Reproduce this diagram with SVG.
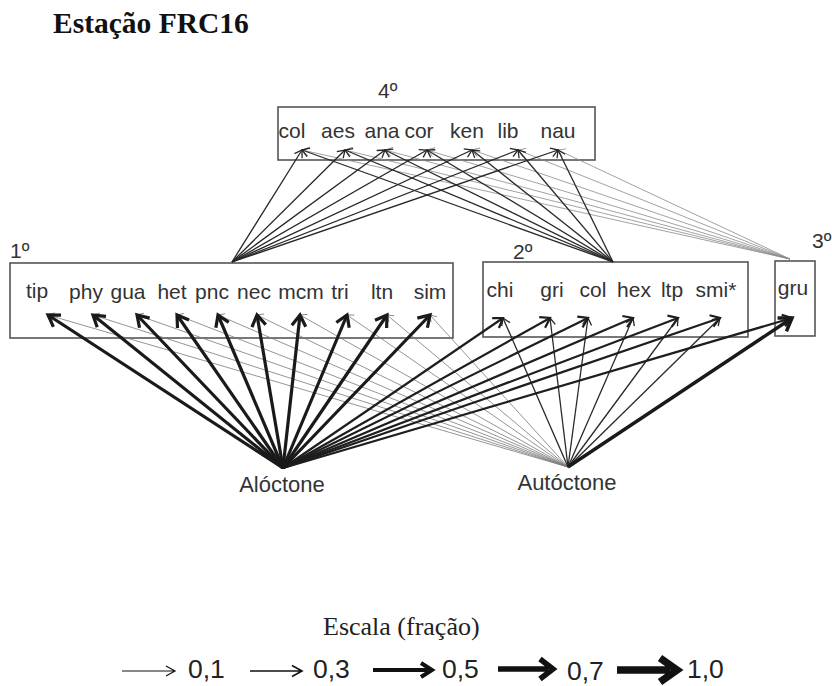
<svg xmlns="http://www.w3.org/2000/svg" width="832" height="686" viewBox="0 0 832 686">
<style>
.box{fill:#fff;stroke:#555;stroke-width:1.6}
.lbl{font-family:"Liberation Sans",Arial,sans-serif;font-size:21px;fill:#333;text-anchor:middle}
.lvl{font-family:"Liberation Sans",Arial,sans-serif;font-size:21px;fill:#333}
.src{font-family:"Liberation Sans",Arial,sans-serif;font-size:22px;fill:#333;text-anchor:middle}
.title{font-family:"Liberation Serif","Times New Roman",serif;font-size:29.5px;font-weight:bold;fill:#111}
.scl{font-family:"Liberation Serif","Times New Roman",serif;font-size:26px;fill:#222}
.num{font-family:"Liberation Sans",Arial,sans-serif;font-size:26.5px;fill:#222}
.e-thin{stroke:#7a7a7a;stroke-width:0.8;fill:none;marker-end:url(#mThin)}
.e-top{stroke:#262626;stroke-width:1.3;fill:none;marker-end:url(#mTop)}
.e-top3{stroke:#8a8a8a;stroke-width:0.8;fill:none;marker-end:url(#mTop3)}
.e-med{stroke:#1e1e1e;stroke-width:2.2;fill:none;marker-end:url(#mMed)}
.e-mid{stroke:#2a2a2a;stroke-width:1.3;fill:none;marker-end:url(#mTop)}
.e-heavy{stroke:#1a1a1a;stroke-width:3.2;fill:none;marker-end:url(#mHeavy)}
.e-gru{stroke:#1a1a1a;stroke-width:3.4;fill:none;marker-end:url(#mGru)}
.sa{stroke:#111;fill:none}
</style>
<defs>
<marker id="mHeavy" markerUnits="userSpaceOnUse" viewBox="-3 -3 17 20" markerWidth="17" markerHeight="20" refX="11" refY="7" orient="auto" overflow="visible"><path d="M0,0 L11,7 L0,14" fill="none" stroke="#1a1a1a" stroke-width="3.2"/></marker>
<marker id="mGru" markerUnits="userSpaceOnUse" viewBox="-3 -3 18 22" markerWidth="18" markerHeight="22" refX="12" refY="8" orient="auto" overflow="visible"><path d="M0,0 L12,8 L0,16" fill="none" stroke="#1a1a1a" stroke-width="3.5"/></marker>
<marker id="mMed" markerUnits="userSpaceOnUse" viewBox="-3 -3 15 18" markerWidth="15" markerHeight="18" refX="9" refY="6" orient="auto" overflow="visible"><path d="M0,0 L9,6 L0,12" fill="none" stroke="#1e1e1e" stroke-width="2.2"/></marker>
<marker id="mTop" markerUnits="userSpaceOnUse" viewBox="-2 -2 11 13" markerWidth="11" markerHeight="13" refX="7" refY="4.5" orient="auto" overflow="visible"><path d="M0,0 L7,4.5 L0,9" fill="none" stroke="#262626" stroke-width="1.3"/></marker>
<marker id="mTop3" markerUnits="userSpaceOnUse" viewBox="-2 -2 11 13" markerWidth="11" markerHeight="13" refX="7" refY="4.5" orient="auto" overflow="visible"><path d="M0,0 L7,4.5 L0,9" fill="none" stroke="#8a8a8a" stroke-width="0.9"/></marker>
<marker id="mThin" markerUnits="userSpaceOnUse" viewBox="-2 -2 10 12" markerWidth="10" markerHeight="12" refX="6" refY="4" orient="auto" overflow="visible"><path d="M0,0 L6,4 L0,8" fill="none" stroke="#7a7a7a" stroke-width="0.8"/></marker>
</defs>
<rect width="832" height="686" fill="#fff"/>
<text class="title" x="53" y="33">Estação FRC16</text>

<g id="level4">
<rect class="box" x="278" y="107" width="317" height="53"/>
<text class="lvl" x="378" y="98">4º</text>
<text class="lbl" x="292" y="138">col</text>
<text class="lbl" x="338" y="138">aes</text>
<text class="lbl" x="382" y="138">ana</text>
<text class="lbl" x="419" y="138">cor</text>
<text class="lbl" x="467" y="138">ken</text>
<text class="lbl" x="508" y="138">lib</text>
<text class="lbl" x="558" y="138">nau</text>
</g>

<g id="level1">
<rect class="box" x="10" y="263" width="443" height="75"/>
<text class="lvl" x="10" y="258">1º</text>
<text class="lbl" x="37" y="298">tip</text>
<text class="lbl" x="86" y="299">phy</text>
<text class="lbl" x="128" y="299">gua</text>
<text class="lbl" x="172" y="299">het</text>
<text class="lbl" x="212" y="299">pnc</text>
<text class="lbl" x="254" y="299">nec</text>
<text class="lbl" x="301" y="299">mcm</text>
<text class="lbl" x="340" y="299">tri</text>
<text class="lbl" x="382" y="299">ltn</text>
<text class="lbl" x="430" y="299">sim</text>
</g>

<g id="level2">
<rect class="box" x="483" y="262" width="265" height="75"/>
<text class="lvl" x="513" y="259">2º</text>
<text class="lbl" x="500" y="297">chi</text>
<text class="lbl" x="552" y="297">gri</text>
<text class="lbl" x="593" y="297">col</text>
<text class="lbl" x="634" y="297">hex</text>
<text class="lbl" x="672" y="297">ltp</text>
<text class="lbl" x="716" y="297">smi*</text>
</g>

<g id="level3">
<rect class="box" x="775" y="261" width="40" height="75"/>
<text class="lvl" x="812" y="248">3º</text>
<text class="lbl" x="793" y="295">gru</text>
</g>

<g id="aloctone">
<text class="src" x="282" y="492">Alóctone</text>
</g>
<g id="autoctone">
<text class="src" x="567" y="490">Autóctone</text>
</g>

<g id="connectors">
<path class="e-thin" d="M568,467 L48,315"/>
<path class="e-thin" d="M568,467 L93,315"/>
<path class="e-thin" d="M568,467 L137,315"/>
<path class="e-thin" d="M568,467 L177,315"/>
<path class="e-thin" d="M568,467 L218,315"/>
<path class="e-thin" d="M568,467 L257,315"/>
<path class="e-thin" d="M568,467 L300,315"/>
<path class="e-thin" d="M568,467 L347,315"/>
<path class="e-thin" d="M568,467 L387,315"/>
<path class="e-thin" d="M568,467 L430,315"/>
<path class="e-top3" d="M790,259 L302,150"/>
<path class="e-top3" d="M790,259 L345,150"/>
<path class="e-top3" d="M790,259 L385,150"/>
<path class="e-top3" d="M790,259 L427,150"/>
<path class="e-top3" d="M790,259 L472,150"/>
<path class="e-top3" d="M790,259 L518,150"/>
<path class="e-top3" d="M790,259 L558,150"/>
<path class="e-mid" d="M613,262 L302,150"/>
<path class="e-mid" d="M613,262 L345,150"/>
<path class="e-mid" d="M613,262 L385,150"/>
<path class="e-mid" d="M613,262 L427,150"/>
<path class="e-mid" d="M613,262 L472,150"/>
<path class="e-mid" d="M613,262 L518,150"/>
<path class="e-mid" d="M613,262 L558,150"/>
<path class="e-top" d="M232,262 L302,150"/>
<path class="e-top" d="M232,262 L345,150"/>
<path class="e-top" d="M232,262 L385,150"/>
<path class="e-top" d="M232,262 L427,150"/>
<path class="e-top" d="M232,262 L472,150"/>
<path class="e-top" d="M232,262 L518,150"/>
<path class="e-top" d="M232,262 L558,150"/>
<path class="e-mid" d="M568,467 L503,318"/>
<path class="e-mid" d="M568,467 L550,318"/>
<path class="e-mid" d="M568,467 L588,318"/>
<path class="e-mid" d="M568,467 L633,318"/>
<path class="e-mid" d="M568,467 L678,318"/>
<path class="e-mid" d="M568,467 L720,318"/>
<path class="e-med" d="M283,468 L503,318"/>
<path class="e-med" d="M283,468 L550,318"/>
<path class="e-med" d="M283,468 L588,318"/>
<path class="e-med" d="M283,468 L633,318"/>
<path class="e-med" d="M283,468 L678,318"/>
<path class="e-med" d="M283,468 L720,318"/>
<path class="e-med" d="M283,468 L792,318"/>
<path class="e-gru" d="M568,467 L792,318"/>
<path class="e-heavy" d="M283,468 L48,315"/>
<path class="e-heavy" d="M283,468 L93,315"/>
<path class="e-heavy" d="M283,468 L137,315"/>
<path class="e-heavy" d="M283,468 L177,315"/>
<path class="e-heavy" d="M283,468 L218,315"/>
<path class="e-heavy" d="M283,468 L257,315"/>
<path class="e-heavy" d="M283,468 L300,315"/>
<path class="e-heavy" d="M283,468 L347,315"/>
<path class="e-heavy" d="M283,468 L387,315"/>
<path class="e-heavy" d="M283,468 L430,315"/>
</g>

<g id="scale">
<text class="scl" x="323" y="635">Escala (fração)</text>
<path class="sa" stroke-width="1.2" d="M122,671 L174,671 M166,666 L175,671 L166,676"/>
<text class="num" x="188" y="678">0,1</text>
<path class="sa" stroke-width="1.6" d="M250,671 L301,671 M292,665.5 L302,671 L292,676.5"/>
<text class="num" x="313" y="678">0,3</text>
<path class="sa" stroke-width="4" d="M373,670 L428,670 M421,663 L432,670 L421,677"/>
<text class="num" x="442" y="678">0,5</text>
<path class="sa" stroke-width="5.5" d="M498,669 L548,669 M540,659 L553,669 L540,679"/>
<text class="num" x="567" y="680">0,7</text>
<path class="sa" stroke-width="7.5" d="M617,670 L670,670 M660,658 L677,670 L660,682"/>
<text class="num" x="687" y="678">1,0</text>
</g>
</svg>
